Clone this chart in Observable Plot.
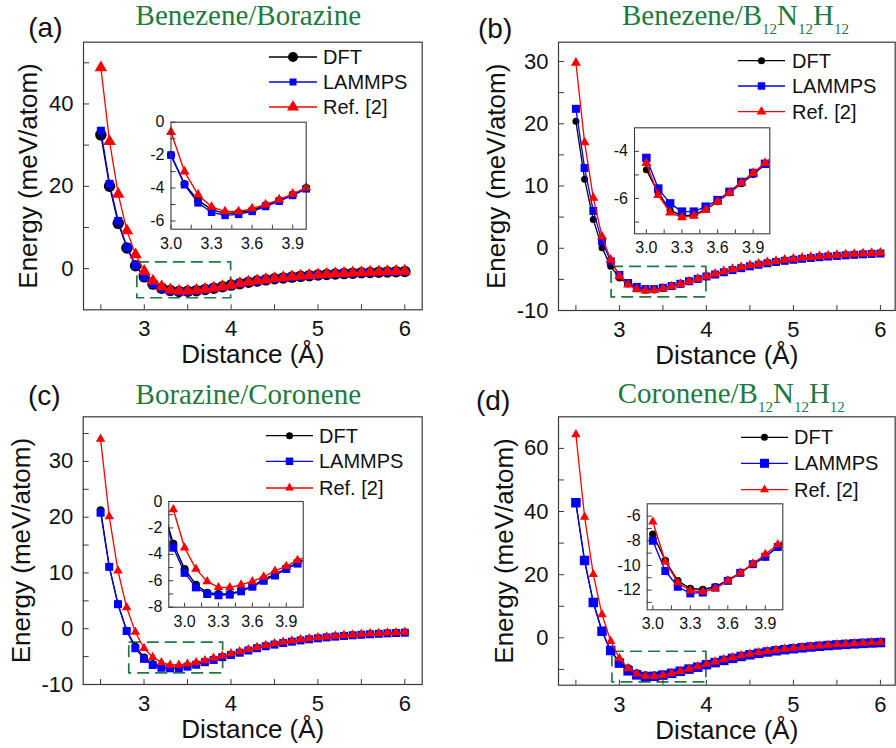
<!DOCTYPE html>
<html><head><meta charset="utf-8">
<script src="https://cdn.jsdelivr.net/npm/d3@7"></script>
<script src="https://cdn.jsdelivr.net/npm/@observablehq/plot@0.6"></script>
<style>
body{margin:0;background:#fff;}
#root{position:relative;width:896px;height:748px;overflow:hidden;background:#fff;font-family:"Liberation Sans",Arial,sans-serif;}
.panel{position:absolute;width:448px;height:374px;}
.panel svg{position:absolute;left:0;top:0;}
</style></head><body><div id="root"></div>
<script>
// ---------------- data ----------------
const distance = [2.5,2.6,2.7,2.8,2.9,3.0,3.1,3.2,3.3,3.4,3.5,3.6,3.7,3.8,3.9,4.0,4.1,4.2,4.3,4.4,4.5,4.6,4.7,4.8,4.9,5.0,5.1,5.2,5.3,5.4,5.5,5.6,5.7,5.8,5.9,6.0];

const dftA    = [32.5,20.0,11.0,5.0,0.7,-2.0,-3.75,-4.75,-5.3,-5.55,-5.5,-5.35,-5.05,-4.75,-4.4,-4.0,-3.65,-3.3,-3.0,-2.72,-2.47,-2.25,-2.05,-1.87,-1.7,-1.56,-1.43,-1.31,-1.2,-1.1,-1.01,-0.93,-0.86,-0.79,-0.73,-0.68];
const lammpsA = [33.5,20.6,11.6,5.2,0.9,-2.0,-3.8,-4.9,-5.47,-5.66,-5.6,-5.42,-5.12,-4.8,-4.45,-4.05,-3.7,-3.35,-3.05,-2.77,-2.52,-2.3,-2.1,-1.92,-1.75,-1.6,-1.47,-1.35,-1.24,-1.14,-1.05,-0.97,-0.9,-0.83,-0.77,-0.72];
const refA    = [48.8,30.9,18.1,9.2,3.4,-0.6,-3.0,-4.4,-5.15,-5.42,-5.42,-5.25,-5.0,-4.7,-4.35,-3.98,-3.6,-3.25,-2.93,-2.65,-2.4,-2.17,-1.97,-1.78,-1.62,-1.47,-1.34,-1.22,-1.11,-1.01,-0.92,-0.84,-0.77,-0.7,-0.64,-0.59];

const dftB    = [20.4,11.1,4.6,0.1,-2.9,-4.78,-5.76,-6.5,-6.74,-6.7,-6.46,-6.14,-5.76,-5.37,-4.98,-4.56,-4.2,-3.82,-3.47,-3.16,-2.87,-2.61,-2.38,-2.17,-1.98,-1.81,-1.66,-1.52,-1.4,-1.29,-1.19,-1.1,-1.02,-0.94,-0.87,-0.81];
const lammpsB = [22.4,12.9,6.0,1.1,-2.1,-4.28,-5.58,-6.21,-6.56,-6.56,-6.35,-6.07,-5.72,-5.3,-4.92,-4.53,-4.22,-3.86,-3.51,-3.2,-2.91,-2.65,-2.42,-2.21,-2.02,-1.85,-1.7,-1.56,-1.44,-1.33,-1.23,-1.14,-1.06,-0.98,-0.91,-0.85];
const refB    = [29.8,17.0,8.1,1.9,-1.85,-4.5,-5.86,-6.6,-6.8,-6.74,-6.49,-6.14,-5.76,-5.34,-4.92,-4.5,-4.1,-3.7,-3.35,-3.05,-2.75,-2.5,-2.27,-2.06,-1.87,-1.7,-1.55,-1.42,-1.3,-1.19,-1.09,-1.0,-0.92,-0.85,-0.78,-0.72];

const dftC    = [21.3,11.1,4.4,-0.3,-3.2,-5.1,-6.3,-6.9,-7.0,-7.0,-6.75,-6.4,-5.9,-5.5,-5.1,-4.6,-4.25,-3.85,-3.45,-3.1,-2.8,-2.52,-2.27,-2.05,-1.85,-1.67,-1.51,-1.37,-1.24,-1.13,-1.03,-0.94,-0.86,-0.78,-0.72,-0.66];
const lammpsC = [20.8,11.1,4.4,-0.4,-3.5,-5.4,-6.5,-7.0,-7.1,-7.05,-6.8,-6.45,-6.0,-5.6,-5.1,-4.7,-4.3,-3.9,-3.5,-3.15,-2.85,-2.57,-2.32,-2.1,-1.9,-1.72,-1.56,-1.42,-1.29,-1.18,-1.08,-0.99,-0.91,-0.83,-0.77,-0.71];
const refC    = [34.0,20.1,10.4,3.8,-0.6,-3.5,-5.1,-6.05,-6.5,-6.5,-6.3,-6.05,-5.7,-5.25,-4.9,-4.45,-4.1,-3.7,-3.3,-2.95,-2.65,-2.38,-2.14,-1.93,-1.74,-1.57,-1.42,-1.29,-1.17,-1.06,-0.96,-0.87,-0.79,-0.72,-0.66,-0.6];

const dftD    = [42.6,24.3,11.2,2.1,-4.2,-7.47,-9.6,-11.25,-11.87,-11.95,-11.73,-11.2,-10.6,-9.9,-9.3,-8.5,-7.8,-7.1,-6.45,-5.85,-5.32,-4.85,-4.43,-4.05,-3.7,-3.39,-3.11,-2.85,-2.61,-2.4,-2.2,-2.02,-1.86,-1.71,-1.57,-1.45];
const lammpsD = [42.8,24.5,11.2,2.1,-4.0,-8.0,-10.45,-11.73,-12.27,-12.2,-11.8,-11.25,-10.6,-9.9,-9.3,-8.5,-7.85,-7.15,-6.5,-5.9,-5.37,-4.9,-4.48,-4.1,-3.75,-3.44,-3.16,-2.9,-2.66,-2.45,-2.25,-2.07,-1.91,-1.76,-1.62,-1.5];
const refD    = [64.4,38.3,20.1,7.4,-1.1,-6.45,-9.7,-11.4,-12.05,-12.13,-11.87,-11.25,-10.6,-9.87,-9.1,-8.3,-7.6,-6.85,-6.2,-5.6,-5.1,-4.65,-4.25,-3.88,-3.55,-3.25,-2.98,-2.73,-2.5,-2.29,-2.1,-1.93,-1.77,-1.62,-1.49,-1.37];

const seriesNames = ["DFT", "LAMMPS", "Ref. [2]"];
const panelLetters = ["(a)", "(b)", "(c)", "(d)"];
const titleA = [["Benezene/Borazine", 0]];
const titleB = [["Benezene/B", 0], ["12", 1], ["N", 0], ["12", 1], ["H", 0], ["12", 1]];
const titleC = [["Borazine/Coronene", 0]];
const titleD = [["Coronene/B", 0], ["12", 1], ["N", 0], ["12", 1], ["H", 0], ["12", 1]];
const xLabel = "Distance (Å)";
const yLabel = "Energy (meV/atom)";

const xTickLabels = [3, 4, 5, 6];
const xTicks = [2.5, 3, 3.5, 4, 4.5, 5, 5.5, 6];
const yTickLabelsA = [0, 20, 40];
const yTicksA = [0, 10, 20, 30, 40, 50];
const yTickLabelsB = [-10, 0, 10, 20, 30];
const yTicksB = [-10, -5, 0, 5, 10, 15, 20, 25, 30];
const yTickLabelsC = [-10, 0, 10, 20, 30];
const yTicksC = [-10, -5, 0, 5, 10, 15, 20, 25, 30, 35];
const yTickLabelsD = [0, 20, 40, 60];
const yTicksD = [-10, 0, 10, 20, 30, 40, 50, 60];

const insetXTickLabels = [3.0, 3.3, 3.6, 3.9];
const insetXTicks = [3.0, 3.15, 3.3, 3.45, 3.6, 3.75, 3.9];
const insetYTickLabelsA = [0, -2, -4, -6];
const insetYTicksA = [0, -1, -2, -3, -4, -5, -6];
const insetYTickLabelsB = [-4, -6];
const insetYTicksB = [-4, -5, -6, -7];
const insetYTickLabelsC = [0, -2, -4, -6, -8];
const insetYTicksC = [0, -1, -2, -3, -4, -5, -6, -7, -8];
const insetYTickLabelsD = [-6, -8, -10, -12];
const insetYTicksD = [-6, -7, -8, -9, -10, -11, -12, -13];

// zoom boxes [x1, x2, y1, y2]
const boxA = [2.92, 4.0, -7.2, 1.5];
const boxB = [2.91, 4.0, -7.9, -3.0];
const boxC = [2.83, 3.91, -8.0, -2.5];
const boxD = [2.92, 4.0, -14.1, -4.4];

// ---------------- styling ----------------
const COLORS = ["#000000", "#0000ff", "#ff0000"];
const SYMBOLS = ["circle", "square", "triangle"];
const GREEN = "#1f7a3e";
const FRAME = "#3a3a3a";
const FONT = "'Liberation Sans', Arial, sans-serif";

function rowsOf(arr) { return distance.map((x, i) => ({x, y: arr[i]})); }
function rOf(sym, s) { return sym === "circle" ? s / 2 : sym === "square" ? s / 1.7725 : s * 0.3713; }

const panels = [
  {left: 0, top: 0, letter: panelLetters[0], title: titleA, series: [dftA, lammpsA, refA], box: boxA,
   main: {ml: 83, mr: 26.3, mt: 41.7, mb: 64.7, xd: [2.3, 6.2], yd: [-10, 55], yl: yTickLabelsA, yt: yTicksA, ytdx: -55, sizes: [11.5, 8, 12.5]},
   inset: {ml: 170.5, mr: 142.3, mt: 121.7, mb: 145.3, xd: [3.0, 4.0], yd: [-6.5, 0], yl: insetYTickLabelsA, yt: insetYTicksA, sizes: [8, 7.5, 10]},
   legend: {x0: 269, x1: 317, tx: 323, ys: [57, 82, 107], sizes: [10, 7, 12]},
   tpos: [248.3, 25], lpos: [28.3, 37]},
  {left: 448, top: 0, letter: panelLetters[1], title: titleB, series: [dftB, lammpsB, refB], box: boxB,
   main: {ml: 110, mr: 1.3, mt: 41.7, mb: 64, xd: [2.3, 6.17], yd: [-10, 33.1], yl: yTickLabelsB, yt: yTicksB, ytdx: -62, sizes: [7, 8, 10]},
   inset: {ml: 186, mr: 126.7, mt: 127.3, mb: 140.7, xd: [2.9, 4.04], yd: [-7.5, -3], yl: insetYTickLabelsB, yt: insetYTicksB, sizes: [7, 8.5, 10]},
   legend: {x0: 290, x1: 337, tx: 344, ys: [60.7, 86, 111.7], sizes: [7, 7.5, 10]},
   tpos: [287.5, 25], lpos: [30, 37.5]},
  {left: 0, top: 374, letter: panelLetters[2], title: titleC, series: [dftC, lammpsC, refC], box: boxC,
   main: {ml: 82.7, mr: 26.3, mt: 42.3, mb: 64, xd: [2.3, 6.2], yd: [-10, 38], yl: yTickLabelsC, yt: yTicksC, ytdx: -62, sizes: [7.5, 8, 9.5]},
   inset: {ml: 168.3, mr: 145.3, mt: 127, mb: 141.3, xd: [2.86, 4.05], yd: [-8, 0], yl: insetYTickLabelsC, yt: insetYTicksC, sizes: [8, 8, 9.5]},
   legend: {x0: 266, x1: 313, tx: 319, ys: [61.7, 87.3, 114], sizes: [7, 7.5, 9]},
   tpos: [248.3, 29.5], lpos: [28, 31]},
  {left: 448, top: 374, letter: panelLetters[3], title: titleD, series: [dftD, lammpsD, refD], box: boxD,
   main: {ml: 110, mr: 1.3, mt: 42.3, mb: 63.3, xd: [2.3, 6.17], yd: [-15, 70], yl: yTickLabelsD, yt: yTicksD, ytdx: -54, sizes: [8, 9.5, 9.5]},
   inset: {ml: 198.7, mr: 113.7, mt: 129.3, mb: 138.7, xd: [2.955, 4.04], yd: [-13.6, -5], yl: insetYTickLabelsD, yt: insetYTicksD, sizes: [7.5, 8, 9.5]},
   legend: {x0: 293, x1: 340, tx: 346, ys: [63.3, 89.3, 115.7], sizes: [7, 9, 9]},
   tpos: [283.3, 29.3], lpos: [28, 36]}
];

function mainPlot(p) {
  const m = p.main;
  const fw = 448 - m.ml - m.mr, fh = 374 - m.mt - m.mb;
  const marks = [
    Plot.rect([p.box], {x1: d => d[0], x2: d => d[1], y1: d => d[2], y2: d => d[3], fill: "none", stroke: GREEN, strokeWidth: 1.7, strokeDasharray: "12,6"})
  ];
  p.series.forEach((arr, k) => {
    const data = rowsOf(arr);
    marks.push(Plot.line(data, {x: "x", y: "y", stroke: COLORS[k], strokeWidth: 1.3}));
    marks.push(Plot.dot(data, {x: "x", y: "y", symbol: SYMBOLS[k], r: rOf(SYMBOLS[k], m.sizes[k]), fill: COLORS[k], stroke: "none"}));
  });
  marks.push(
    Plot.tickX(xTicks, {x: d => d, insetTop: fh - 5, stroke: FRAME}),
    Plot.tickY(m.yt, {y: d => d, insetRight: fw - 6, stroke: FRAME}),
    Plot.axisX(xTickLabels, {anchor: "bottom", tickSize: 0, tickPadding: 11, fontSize: 22, tickFormat: d => String(d), label: null}),
    Plot.axisY(m.yl, {anchor: "left", tickSize: 0, tickPadding: 10, fontSize: 22, tickFormat: d => String(d), label: null}),
    Plot.frame({stroke: FRAME, strokeWidth: 1.2}),
    Plot.text([xLabel], {text: d => d, frameAnchor: "bottom", lineAnchor: "middle", textAnchor: "middle", dy: 45, fontSize: 26}),
    Plot.text([yLabel], {text: d => d, frameAnchor: "left", lineAnchor: "middle", textAnchor: "middle", dx: m.ytdx, rotate: -90, fontSize: 26})
  );
  return Plot.plot({
    width: 448, height: 374,
    marginLeft: m.ml, marginRight: m.mr, marginTop: m.mt, marginBottom: m.mb,
    x: {domain: m.xd}, y: {domain: m.yd},
    style: {fontFamily: FONT, fontSize: "22px", background: "transparent", color: "#111", overflow: "visible"},
    marks
  });
}

function insetPlot(p) {
  const m = p.inset;
  const fw = 448 - m.ml - m.mr, fh = 374 - m.mt - m.mb;
  const inY = d => d.y >= m.yd[0] && d.y <= m.yd[1];
  const inside = d => d.x >= m.xd[0] - 1e-9 && d.x <= m.xd[1] + 1e-9 && inY(d);
  const marks = [Plot.frame({fill: "white", stroke: "none"})];
  marks.push(
    Plot.tickX(insetXTicks, {x: d => d, insetTop: fh - 4, stroke: FRAME}),
    Plot.tickY(m.yt, {y: d => d, insetRight: fw - 5, stroke: FRAME})
  );
  p.series.forEach((arr, k) => {
    const data = rowsOf(arr).filter(inY);
    marks.push(Plot.line(data, {x: "x", y: "y", stroke: COLORS[k], strokeWidth: 1.4, clip: true}));
    marks.push(Plot.dot(data, {x: "x", y: "y", filter: inside, symbol: SYMBOLS[k], r: rOf(SYMBOLS[k], m.sizes[k]), fill: COLORS[k], stroke: "none"}));
  });
  marks.push(
    Plot.axisX(insetXTickLabels, {anchor: "bottom", tickSize: 0, tickPadding: 8, fontSize: 16, tickFormat: d => d.toFixed(1), label: null}),
    Plot.axisY(m.yl, {anchor: "left", tickSize: 0, tickPadding: 6.5, fontSize: 16, tickFormat: d => String(d), label: null}),
    Plot.frame({stroke: FRAME, strokeWidth: 1.1})
  );
  return Plot.plot({
    width: 448, height: 374,
    marginLeft: m.ml, marginRight: m.mr, marginTop: m.mt, marginBottom: m.mb,
    x: {domain: m.xd}, y: {domain: m.yd},
    style: {fontFamily: FONT, fontSize: "16px", background: "transparent", color: "#111", overflow: "visible"},
    marks
  });
}

function overlay(p) {
  const svg = d3.create("svg").attr("width", 448).attr("height", 374)
    .style("overflow", "visible").attr("font-family", FONT);
  // title
  const t = svg.append("text").attr("x", p.tpos[0]).attr("y", p.tpos[1]).attr("text-anchor", "middle")
    .attr("font-family", "'Liberation Serif', 'Times New Roman', serif").attr("font-size", 29).attr("fill", GREEN);
  let sub = false;
  p.title.forEach(([s, isSub]) => {
    const ts = t.append("tspan").text(s);
    if (isSub && !sub) { ts.attr("font-size", 15).attr("dy", 9); sub = true; }
    else if (!isSub && sub) { ts.attr("dy", -9); sub = false; }
    else if (isSub) ts.attr("font-size", 15);
  });
  // panel letter
  svg.append("text").attr("x", p.lpos[0]).attr("y", p.lpos[1]).attr("font-size", 28).attr("fill", "#111").text(p.letter);
  // legend
  const L = p.legend;
  seriesNames.forEach((name, k) => {
    const y = L.ys[k];
    svg.append("line").attr("x1", L.x0).attr("x2", L.x1).attr("y1", y).attr("y2", y)
      .attr("stroke", COLORS[k]).attr("stroke-width", 1.3);
    const s = L.sizes[k];
    const type = k === 0 ? d3.symbolCircle : k === 1 ? d3.symbolSquare : d3.symbolTriangle;
    const area = k === 0 ? Math.PI * s * s / 4 : k === 1 ? s * s : s * s * Math.sqrt(3) / 4;
    svg.append("path").attr("d", d3.symbol(type, area)()).attr("transform", `translate(${(L.x0 + L.x1) / 2},${y})`).attr("fill", COLORS[k]);
    svg.append("text").attr("x", L.tx).attr("y", y + 7).attr("font-size", 20).attr("fill", "#111").text(name);
  });
  return svg.node();
}

const root = document.getElementById("root");
panels.forEach(p => {
  const div = document.createElement("div");
  div.className = "panel";
  div.style.left = p.left + "px";
  div.style.top = p.top + "px";
  div.appendChild(mainPlot(p));
  div.appendChild(insetPlot(p));
  div.appendChild(overlay(p));
  root.appendChild(div);
});
</script>
</body></html>
